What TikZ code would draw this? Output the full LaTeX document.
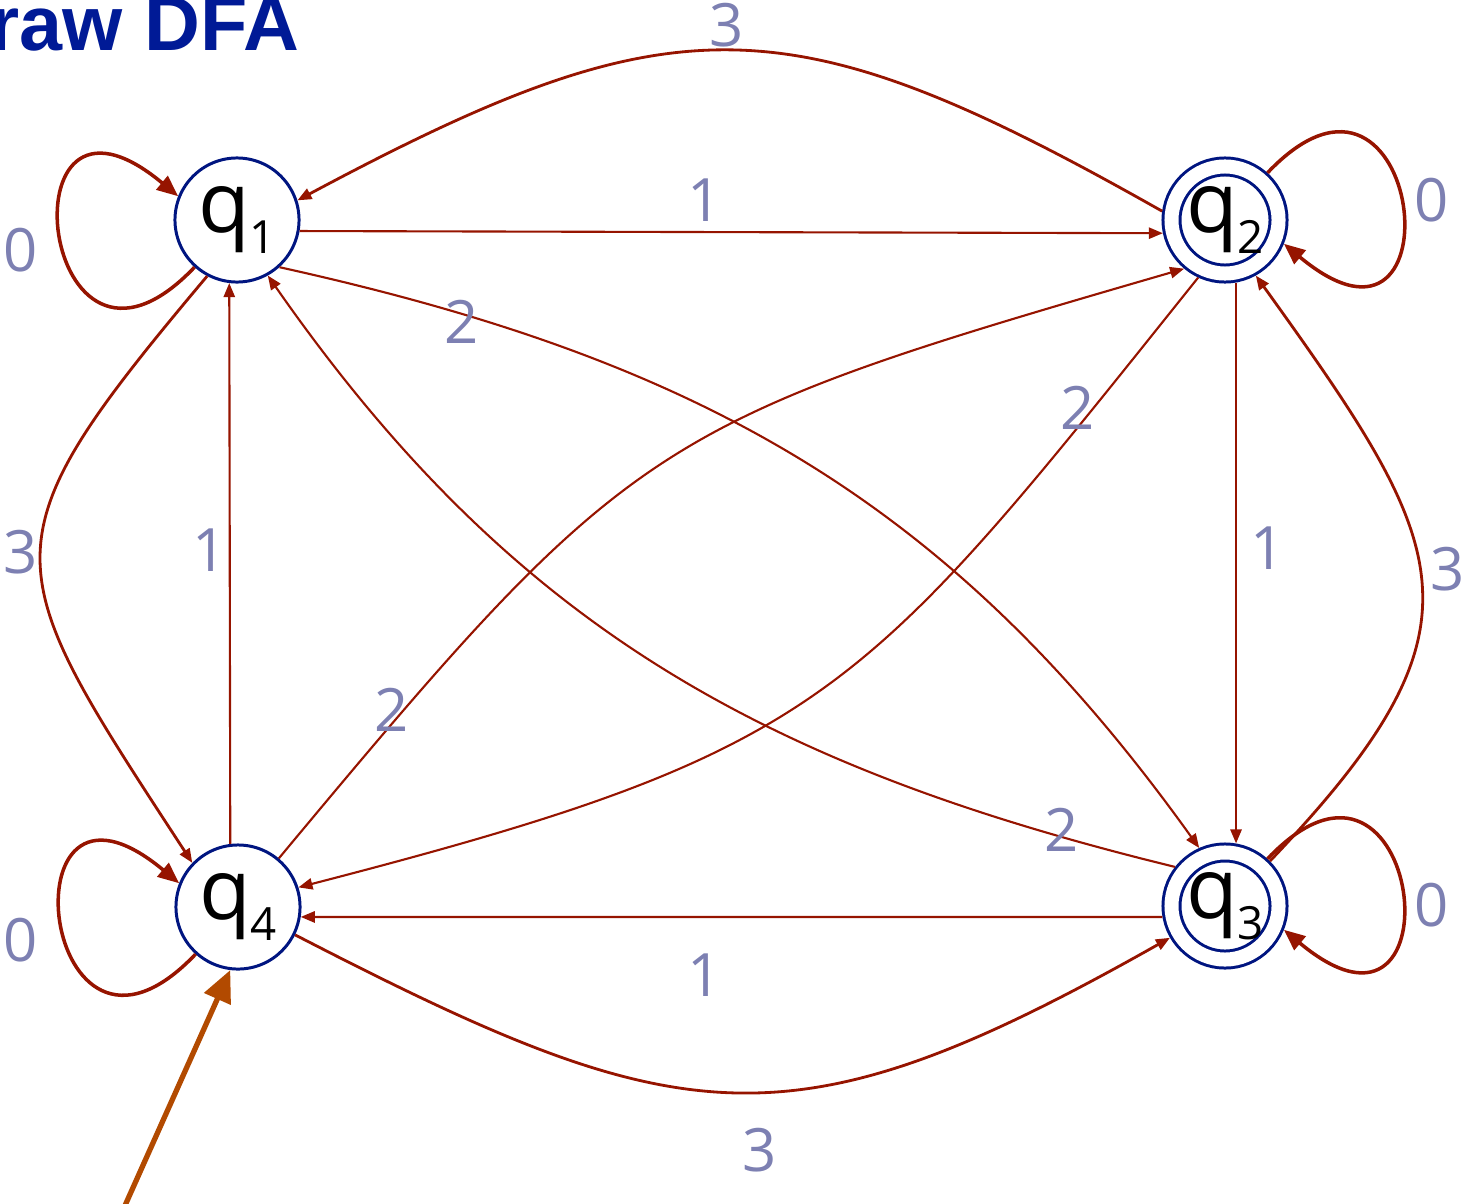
\documentclass[tikz,border=0pt]{standalone}
\usepackage{fontspec}
\setmainfont{Open Sans}
\newfontfamily\titlefont{Liberation Sans}
\usetikzlibrary{arrows.meta}
\definecolor{stateBlue}{RGB}{0,21,128}
\definecolor{edgeRed}{RGB}{150,20,0}
\definecolor{labelGrey}{RGB}{125,128,178}
\definecolor{initOrange}{RGB}{178,74,0}
\definecolor{titleBlue}{RGB}{0,26,150}
\newcommand{\qsub}[1]{q\raisebox{-6pt}{\fontsize{13}{14}\selectfont #1}}

\begin{document}
\begin{tikzpicture}[x=0.01cm,y=-0.01cm,
  state/.style={circle,draw=stateBlue,line width=0.85pt,minimum size=1.24cm,inner sep=0pt,font=\fontsize{24}{26}\selectfont},
  accept/.style={state,double,double distance=0.14cm,minimum size=1.07cm,outer sep=0.1cm},
  edge/.style={draw=edgeRed,line width=0.6pt,-{Triangle[length=4pt,width=3.2pt]}},
  bigedge/.style={edge,line width=0.8pt},
  loopedge/.style={draw=edgeRed,line width=1pt,-{Triangle[length=6pt,width=5pt]}},
  lbl/.style={text=labelGrey,font=\fontsize{17}{20}\selectfont,inner sep=0pt},
  init/.style={draw=initOrange,line width=1.5pt,-{Triangle[length=9pt,width=8pt]}}]
\useasboundingbox (0,0) rectangle (1464,1203);
\node[anchor=base east,inner sep=0pt,text=titleBlue,font=\titlefont\bfseries\fontsize{22}{26}\selectfont] (title) at (300,50) {Draw DFA};

% states
\node[state] (q1) at (237,220) {\qsub{1}};
\node[accept] (q2) at (1225,220) {\qsub{2}};
\node[accept] (q3) at (1225,906) {\qsub{3}};
\node[state] (q4) at (238,907) {\qsub{4}};
\coordinate (start) at (123,1210);

% straight edges
\draw[edge] (q1.-10) -- (q2.192);
\draw[edge] (q3.190) -- (q4.-9);
\draw[edge] (q2.-80) -- (q3.80);
\draw[edge] (q4.97) -- (q1.263);

% diagonals
\draw[edge] (q1.-48) .. controls (700,360) and (950,500) .. (q3.114);
\draw[edge] (q3.142) .. controls (762,766) and (512,626) .. (q1.-61);
\draw[edge] (q2.245) .. controls (860,700) and (830,750) .. (q4.18);
\draw[edge] (q4.50) .. controls (632,434) and (652,423) .. (q2.230);

% outer curves
\draw[bigedge] (q2.172) .. controls (789,0) and (676,-2) .. (q1.18);
\draw[bigedge] (q4.-26) .. controls (683,1135) and (789,1153) .. (q3.210);
\draw[bigedge] (q1.242) .. controls (-20,546) and (-4,562) .. (q4.136);
\draw[bigedge] (q3.45) .. controls (1495,625) and (1453,550) .. (q2.-61);

% loops
\draw[loopedge] (q1.228) .. controls +(-155,163) and +(-180,-150) .. (q1.158);
\draw[loopedge] (q4.228) .. controls +(-155,163) and +(-180,-150) .. (q4.158);
\draw[loopedge] (q2.48) .. controls +(155,-163) and +(180,150) .. (q2.-22);
\draw[loopedge] (q3.48) .. controls +(155,-163) and +(180,150) .. (q3.-22);

\draw[init] (start) -- (q4.263);

% labels
\node[lbl] (t11) at (21,250) {0};
\node[lbl] (t12) at (705,200) {1};
\node[lbl] (t13) at (462,322) {2};
\node[lbl] (t14) at (21,552) {3};
\node[lbl] (t22) at (1432,200) {0};
\node[lbl] (t23) at (1268,548) {1};
\node[lbl] (t24) at (1078,408) {2};
\node[lbl] (t21) at (727,25) {3};
\node[lbl] (t33) at (1432,905) {0};
\node[lbl] (t34) at (705,975) {1};
\node[lbl] (t31) at (1062,830) {2};
\node[lbl] (t32) at (1448,569) {3};
\node[lbl] (t44) at (21,940) {0};
\node[lbl] (t41) at (210,550) {1};
\node[lbl] (t42) at (392,710) {2};
\node[lbl] (t43) at (760,1150) {3};
\end{tikzpicture}
\end{document}
